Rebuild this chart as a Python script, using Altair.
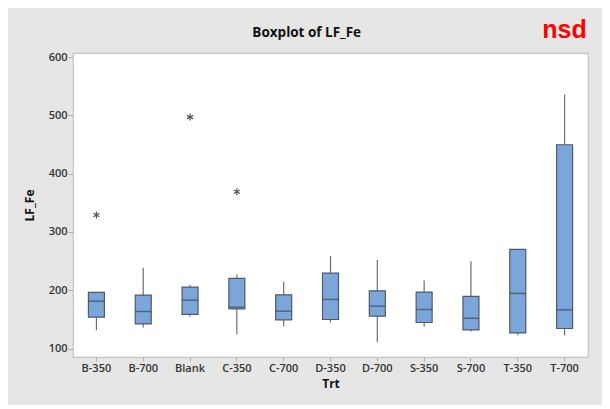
import altair as alt
import pandas as pd

cats = ["B-350", "B-700", "Blank", "C-350", "C-700", "D-350", "D-700", "S-350", "S-700", "T-350", "T-700"]
lo = [131.5, 136.0, 154.4, 124.6, 138.3, 144.7, 111.4, 137.2, 129.2, 122.9, 122.4]
q1 = [153.8, 142.3, 158.5, 168.0, 149.2, 149.8, 155.5, 144.7, 132.0, 126.8, 134.4]
med = [181.3, 163.6, 183.0, 171.0, 164.1, 184.2, 172.7, 167.0, 152.0, 194.6, 166.4]
q3 = [196.3, 191.7, 205.4, 220.4, 192.2, 229.5, 199.0, 196.8, 189.4, 270.2, 449.6]
hi = [196.3, 238.6, 208.8, 227.0, 214.5, 258.7, 251.8, 216.9, 249.6, 270.2, 535.6]
out_cats = ["B-350", "Blank", "C-350"]
out_vals = [329.0, 497.0, 369.0]
y_ticks = [100, 200, 300, 400, 500, 600]

df = pd.DataFrame({"Trt": cats, "lo": lo, "q1": q1, "med": med, "q3": q3, "hi": hi})
df_out = pd.DataFrame({"Trt": out_cats, "val": out_vals})
df_title = pd.DataFrame({"t": ["Boxplot of LF_Fe"]})
df_nsd = pd.DataFrame({"t": ["nsd"]})

FONT = "Open Sans"
xscale = alt.Scale(domain=cats, paddingInner=0, paddingOuter=0)
yscale = alt.Scale(domain=[85.5, 607], nice=False, zero=False)

xax = alt.Axis(title="Trt", labelAngle=0, domain=False, ticks=True, tickSize=4,
               tickColor="#b0b0b0", labelPadding=1, labelFont=FONT, labelFontSize=11,
               labelFontWeight=600, labelColor="#333333", titleFont=FONT, titleFontSize=12,
               titleFontWeight="bold", titleColor="#111111", titlePadding=5, grid=False)
yax = alt.Axis(title="LF_Fe", values=y_ticks, domain=False, ticks=True, tickSize=5,
               tickColor="#b0b0b0", labelPadding=1, labelFont=FONT, labelFontSize=11,
               labelFontWeight=600, labelColor="#333333", titleFont=FONT, titleFontSize=12,
               titleFontWeight="bold", titleColor="#111111", titlePadding=12, grid=False)

base = alt.Chart(df)
x = alt.X("Trt:N", scale=xscale, axis=xax, sort=cats)

whisk = base.mark_rule(color="#6e6e6e", strokeWidth=1.2).encode(
    x=x, y=alt.Y("lo:Q", scale=yscale, axis=yax), y2="hi:Q")
box = base.mark_bar(size=16, fill="#7ba6da", stroke="#505a66", strokeWidth=1.2).encode(
    x=x, y=alt.Y("q1:Q"), y2="q3:Q")
medl = base.mark_tick(size=16, thickness=1.5, color="#3f4a58", orient="horizontal").encode(
    x=x, y=alt.Y("med:Q"))
outl = alt.Chart(df_out).mark_point(
    shape="M0,-1L0,1M-0.87,-0.5L0.87,0.5M-0.87,0.5L0.87,-0.5",
    size=49, filled=False, stroke="#555555", strokeWidth=1.2, opacity=1).encode(
    x=alt.X("Trt:N", scale=xscale, sort=cats), y=alt.Y("val:Q"))

title = alt.Chart(df_title).mark_text(font=FONT, fontSize=13.5, fontWeight="bold",
                                      color="#111111", align="center", baseline="alphabetic").encode(
    text="t:N", x=alt.value(233.7), y=alt.value(-16))
nsd = alt.Chart(df_nsd).mark_text(font="Liberation Sans", fontSize=25, fontWeight="bold",
                                  color="#ff0000", align="center", baseline="alphabetic").encode(
    text="t:N", x=alt.value(491.5), y=alt.value(-14.7))

chart = alt.layer(whisk, box, medl, outl, title, nsd).properties(
    width=515, height=304,
    autosize=alt.AutoSizeParams(type="none"),
    padding={"left": 65, "top": 45, "right": 14, "bottom": 48},
    background="#e6e6e6",
).configure_view(fill="white", stroke="#c4c4c4", strokeWidth=1.2)

chart.save("out.html", embed_options={"renderer": "svg", "actions": False})
